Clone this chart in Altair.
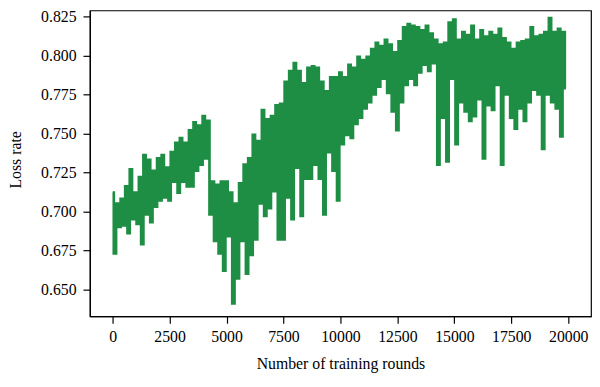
import altair as alt
import pandas as pd

# Top of the noisy band, rounds 0, 200, ..., 19800
upper = [
    0.712, 0.705, 0.708, 0.716, 0.727, 0.712, 0.722, 0.736, 0.733, 0.726,
    0.734, 0.736, 0.728, 0.738, 0.744, 0.747, 0.744, 0.752, 0.757, 0.755,
    0.761, 0.758, 0.719, 0.717, 0.719, 0.719, 0.712, 0.705, 0.718, 0.730,
    0.734, 0.749, 0.745, 0.765, 0.759, 0.761, 0.768, 0.769, 0.783, 0.790,
    0.795, 0.790, 0.782, 0.792, 0.793, 0.792, 0.783, 0.777, 0.786, 0.786,
    0.789, 0.786, 0.794, 0.792, 0.799, 0.797, 0.799, 0.804, 0.808, 0.806,
    0.810, 0.807, 0.802, 0.809, 0.818, 0.820, 0.819, 0.818, 0.816, 0.819,
    0.814, 0.810, 0.807, 0.808, 0.821, 0.823, 0.810, 0.815, 0.813, 0.819,
    0.810, 0.816, 0.812, 0.815, 0.813, 0.817, 0.811, 0.808, 0.804, 0.808,
    0.809, 0.810, 0.818, 0.812, 0.813, 0.815, 0.824, 0.815, 0.817, 0.815,
]

# Bottom of the noisy band, rounds 100, 300, ..., 19900
lower = [
    0.673, 0.690, 0.691, 0.686, 0.695, 0.692, 0.679, 0.698, 0.693, 0.703,
    0.707, 0.709, 0.707, 0.719, 0.712, 0.719, 0.716, 0.716, 0.726, 0.730,
    0.734, 0.698, 0.681, 0.673, 0.662, 0.684, 0.641, 0.657, 0.681, 0.660,
    0.672, 0.682, 0.705, 0.697, 0.702, 0.713, 0.682, 0.682, 0.709, 0.695,
    0.728, 0.697, 0.721, 0.721, 0.730, 0.721, 0.698, 0.738, 0.726, 0.707,
    0.743, 0.749, 0.747, 0.756, 0.760, 0.766, 0.770, 0.775, 0.780, 0.785,
    0.776, 0.764, 0.752, 0.770, 0.781, 0.785, 0.781, 0.789, 0.794, 0.790,
    0.795, 0.730, 0.760, 0.732, 0.785, 0.743, 0.770, 0.764, 0.758, 0.761,
    0.772, 0.734, 0.768, 0.765, 0.781, 0.730, 0.775, 0.760, 0.753, 0.766,
    0.758, 0.770, 0.778, 0.775, 0.740, 0.775, 0.770, 0.766, 0.748, 0.779,
]

x_ticks = [0, 2500, 5000, 7500, 10000, 12500, 15000, 17500, 20000]
y_ticks = [0.650, 0.675, 0.700, 0.725, 0.750, 0.775, 0.800, 0.825]

rounds = []
values = []
for i in range(len(upper)):
    rounds += [200 * i, 200 * i + 100]
    values += [upper[i], lower[i]]

df = pd.DataFrame({"round": rounds, "loss": values})

FONT = "Liberation Serif"

chart = (
    alt.Chart(df)
    .mark_line(interpolate="step", strokeWidth=2.7, color="#1e8e44", clip=True)
    .encode(
        x=alt.X(
            "round:Q",
            scale=alt.Scale(domain=[-1000, 21000], nice=False, zero=False),
            axis=alt.Axis(
                values=x_ticks,
                format="d",
                title="Number of training rounds",
                labelPadding=6,
                titleY=53,
                titleBaseline="alphabetic",
            ),
        ),
        y=alt.Y(
            "loss:Q",
            scale=alt.Scale(domain=[0.6327, 0.8288], nice=False, zero=False),
            axis=alt.Axis(
                values=y_ticks,
                format=".3f",
                title="Loss rate",
                labelPadding=7,
                titleX=-70,
                titleY=151,
                titleBaseline="alphabetic",
            ),
        ),
    )
    .properties(
        width=508,
        height=310,
        autosize=alt.AutoSizeParams(type="none"),
        padding={"left": 83, "top": 0, "right": 1, "bottom": 56},
        background="white",
    )
    .configure_view(stroke="black", strokeWidth=1.2)
    .configure_axis(
        grid=False,
        labelFont=FONT,
        labelFontSize=16,
        labelColor="black",
        titleFont=FONT,
        titleFontSize=16,
        titleFontWeight="normal",
        titleColor="black",
        domainColor="black",
        domainWidth=1.2,
        tickColor="black",
        tickWidth=1.2,
        tickSize=7,
    )
)

chart.save("out.html", embed_options={"renderer": "svg", "actions": False})
